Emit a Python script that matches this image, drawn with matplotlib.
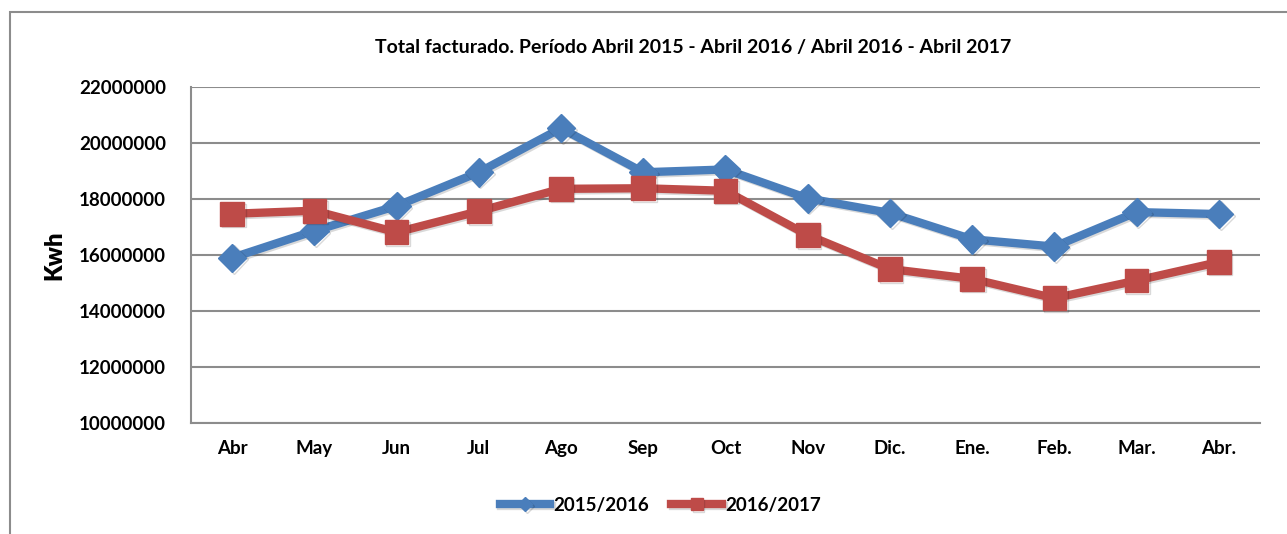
import matplotlib.pyplot as plt
import matplotlib.patheffects as pe
from matplotlib.patches import Rectangle

# Monthly billed energy (Kwh)
months = ['Abr', 'May', 'Jun', 'Jul', 'Ago', 'Sep', 'Oct', 'Nov',
          'Dic.', 'Ene.', 'Feb.', 'Mar.', 'Abr.']
kwh_2015_2016 = [15900000, 16860000, 17750000, 18950000, 20520000, 18950000, 19050000,
                 18020000, 17500000, 16560000, 16300000, 17530000, 17460000]
kwh_2016_2017 = [17470000, 17580000, 16810000, 17560000, 18360000, 18380000, 18290000,
                 16710000, 15500000, 15150000, 14460000, 15090000, 15750000]

plt.rcParams['font.family'] = ['Lato', 'DejaVu Sans']
plt.rcParams['font.weight'] = 'bold'

fig = plt.figure(figsize=(12.87, 5.34), dpi=100)
ax = fig.add_axes([0.1484, 0.2073, 0.8306, 0.6303])

shadow = [pe.SimpleLineShadow(offset=(1.2, -1.2), alpha=0.15), pe.Normal()]
x = range(len(months))
ax.plot(x, kwh_2015_2016, color='#4A7EBB', lw=6, marker='D', ms=14.5,
        label='2015/2016', path_effects=shadow, zorder=3)
ax.plot(x, kwh_2016_2017, color='#BE4B48', lw=6, marker='s', ms=17,
        label='2016/2017', path_effects=shadow, zorder=3)

ax.set_xlim(-0.5, len(months) - 0.5)
ax.set_ylim(10000000, 22000000)
ax.set_yticks(range(10000000, 22000001, 2000000))
ax.set_yticklabels([str(v) for v in range(10000000, 22000001, 2000000)])
ax.set_xticks(list(x))
ax.set_xticklabels(months)
ax.tick_params(length=0, labelsize=13.5, pad=12)
ax.tick_params(axis='y', pad=18)
ax.grid(axis='y', color='#8c8c8c', lw=1.5)
ax.set_axisbelow(True)
for s in ['top', 'right']:
    ax.spines[s].set_visible(False)
for s in ['left', 'bottom']:
    ax.spines[s].set_color('#8c8c8c')
    ax.spines[s].set_linewidth(1.5)

ax.set_ylabel('Kwh', fontsize=17, fontweight='heavy', labelpad=10)
ax.set_title('Total facturado. Período Abril 2015 - Abril 2016 / Abril 2016 - Abril 2017',
             fontsize=14, fontweight='bold', pad=24, x=0.47)

fig.legend(loc='center', bbox_to_anchor=(0.513, 0.054), ncol=2, frameon=False,
           fontsize=13.5, handlelength=2.7, handletextpad=0.15, columnspacing=1.2,
           markerscale=0.5)

# outer chart frame
fig.patches.append(Rectangle((10 / 1287, -0.1), 1.2, (534 - 12) / 534 + 0.1,
                             transform=fig.transFigure, fill=False,
                             edgecolor='#8c8c8c', lw=1.5))

fig.savefig('out.png', dpi=100)
